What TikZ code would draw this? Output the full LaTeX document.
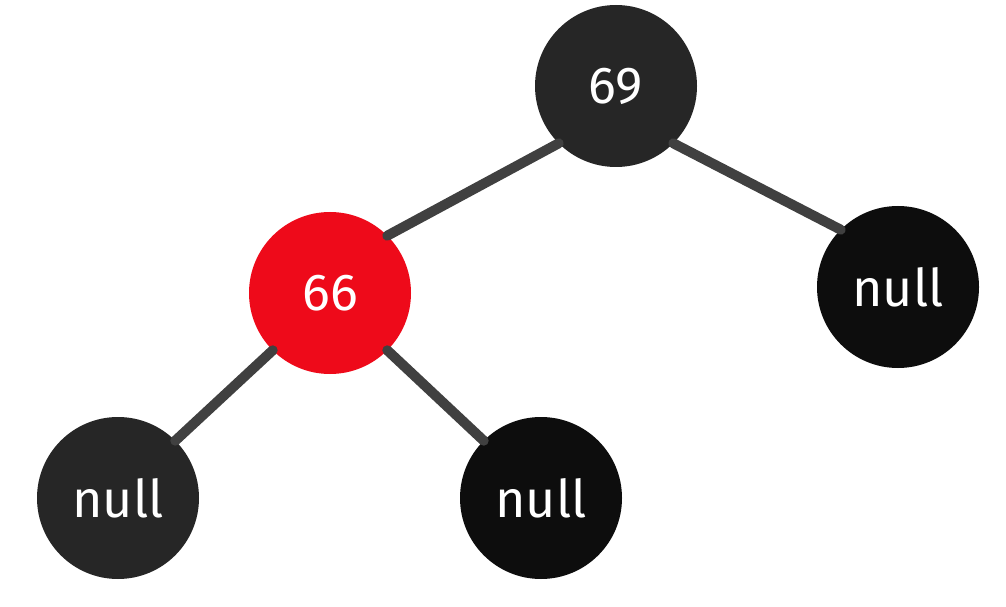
\documentclass[tikz,border=0pt]{standalone}
\usepackage{fontspec}
\setmainfont{Fira Sans}
\definecolor{nodegray}{HTML}{262626}
\definecolor{nodeblack}{HTML}{0D0D0D}
\definecolor{nodered}{HTML}{EE0A1A}
\definecolor{edgegray}{HTML}{404040}
\begin{document}
\begin{tikzpicture}[x=1pt,y=1pt,
  treenode/.style={circle, minimum size=162pt, inner sep=0pt, outer sep=0pt,
    text=white, font=\fontsize{52}{60}\selectfont},
  grayn/.style={treenode, fill=nodegray},
  blackn/.style={treenode, fill=nodeblack},
  redn/.style={treenode, fill=nodered},
  link/.style={draw=edgegray, line width=10pt, line cap=round}]
\useasboundingbox (0,0) rectangle (1006,606);
\node[grayn]  (n69) at (616,520) {69};
\node[redn]   (n66) at (330,313) {66};
\node[blackn] (nr)  at (898,319) {null};
\node[grayn]  (nl)  at (118,108) {null};
\node[blackn] (nm)  at (541,108) {null};
\draw[link] (n69.225) -- (n66.45);
\draw[link] (n69.315) -- (nr.135);
\draw[link] (n66.225) -- (nl.45);
\draw[link] (n66.315) -- (nm.135);
\end{tikzpicture}
\end{document}
